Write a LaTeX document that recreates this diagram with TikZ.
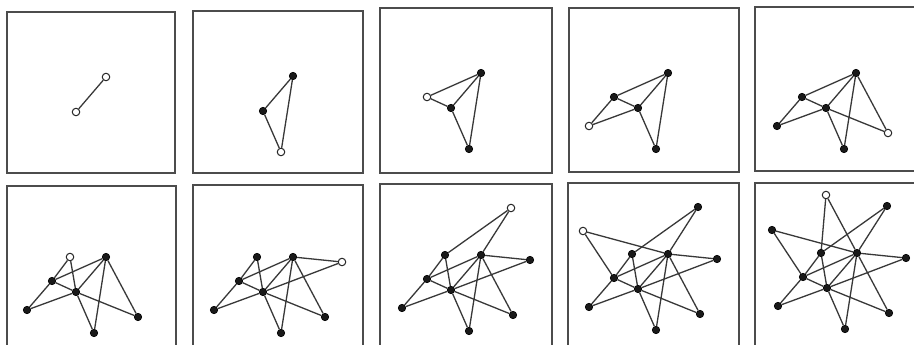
\documentclass[tikz,border=0pt]{standalone}
\begin{document}
\begin{tikzpicture}[x=1pt,y=-1pt,
  vtx/.style={circle, draw=black, fill=black!90, line width=0.6pt, inner sep=0pt, minimum size=7.5pt},
  opn/.style={circle, draw=black!85, fill=white, line width=1pt, inner sep=0pt, minimum size=7.5pt},
  lnk/.style={draw=black!78, line width=1.3pt},
  frame/.style={draw=black!70, line width=2.2pt}]
\useasboundingbox (0,0) rectangle (914,345);
\fill[white] (0,0) rectangle (914,345);
% panel frames
\draw[frame] (7,12) rectangle (175,173);
\draw[frame] (193,11) rectangle (363,173);
\draw[frame] (380,8) rectangle (552,173);
\draw[frame] (569,8) rectangle (739,172);
\draw[frame] (755,7) rectangle (920,171);
\draw[frame] (7,186) rectangle (176,352);
\draw[frame] (193,185) rectangle (363,352);
\draw[frame] (380,184) rectangle (552,352);
\draw[frame] (568,183) rectangle (739,352);
\draw[frame] (755,183) rectangle (920,352);
% graphs
\foreach \k/\tx/\ty in {1/106/77, 2/293/76, 3/481/73, 4/668/73, 5/856/73,
                        6/106/257, 7/293/257, 8/481/255, 9/668/254, 10/857/253} {
  \begin{scope}[shift={(\tx,\ty)}, name prefix=p\k-]
    \pgfmathtruncatemacro\nn{\k+1}
    \foreach \i/\px/\py in {1/0/0, 2/-30/35, 3/-12/76, 4/-54/24, 5/-79/53, 6/32/60,
                            7/-36/0, 8/49/5, 9/30/-47, 10/-85/-23, 11/-31/-58} {
      \ifnum\i>\nn\relax\else
        \ifnum\i<\nn\relax
          \ifnum\k>1\relax
            \node[vtx] (n\i) at (\px,\py) {};
          \else
            \node[opn] (n\i) at (\px,\py) {};
          \fi
        \else
          \node[opn] (n\i) at (\px,\py) {};
        \fi
      \fi
    }
    \foreach \i/\j in {2/1, 3/1, 3/2, 4/1, 4/2, 5/4, 5/2, 6/1, 6/2, 7/4, 7/2,
                       8/1, 8/2, 9/7, 9/1, 10/1, 10/4, 11/1, 11/7} {
      \ifnum\i>\nn\relax\else
        \draw[lnk] (n\i) -- (n\j);
      \fi
    }
  \end{scope}
}
\end{tikzpicture}
\end{document}
